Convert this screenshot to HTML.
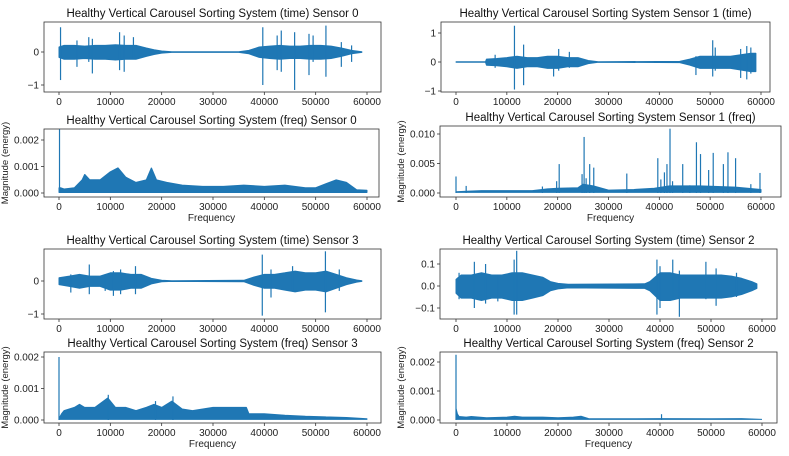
<!DOCTYPE html>
<html><head><meta charset="utf-8"><style>
body{margin:0;background:#fff;}
svg{display:block;font-family:"Liberation Sans","DejaVu Sans",sans-serif;}
</style></head><body>
<svg id="fig" width="789" height="456" viewBox="0 0 789 456"></svg>
<script>
// ---- data ----
const p1Xs=[0,1000,3000,5000,7000,9000,11000,13000,15000,17000,18500,20000,22000,35000,37000,39000,41000,43000,45000,47000,49000,51000,53000,55000,57000,59000];
const p1Up=[0.15,0.2,0.2,0.18,0.2,0.2,0.22,0.2,0.2,0.12,0.07,0.03,0.01,0.01,0.05,0.15,0.18,0.2,0.18,0.18,0.2,0.2,0.18,0.12,0.05,0.01];
const p1SpX=[300,3500,5800,6500,11800,12700,14500,39700,42500,43300,45900,48700,49500,52000,55000,57000];
const p1SpHi=[0.75,0.35,0.45,0.4,0.6,0.5,0.45,0.75,0.5,0.65,0.6,0.55,0.5,0.8,0.3,0.2];
const p1SpLo=[-0.85,-0.45,-0.3,-0.65,-0.55,-0.6,-0.2,-1.0,-0.55,-0.6,-1.15,-0.7,-0.3,-0.75,-0.45,-0.3];

const p2Xs=[0,300,1000,3000,4500,5000,6000,8000,10000,11500,13000,15000,17000,18000,19000,21000,24000,28000,32000,36000,40000,44000,48000,50000,52000,54000,56000,58000,60000];
const p2Up=[0.0002,0.0002,0.00015,0.0002,0.0005,0.0007,0.0005,0.0005,0.0008,0.00095,0.0006,0.0004,0.0005,0.00095,0.0005,0.0004,0.0003,0.00025,0.00025,0.0003,0.00025,0.0003,0.0002,0.0002,0.00035,0.0005,0.0004,0.00012,0.0001];
const p2SpX=[100];const p2SpHi=[0.0024];const p2SpLo=[0];

const p3Xs=[0,5800,6000,8000,10000,12000,14000,16000,18000,20000,22000,24000,26000,28000,44000,46000,48000,50000,52000,54000,56000,58000,59000];
const p3Up=[0.01,0.01,0.1,0.12,0.15,0.2,0.15,0.15,0.2,0.2,0.15,0.15,0.05,0.01,0.02,0.1,0.2,0.2,0.2,0.2,0.25,0.3,0.3];
const p3SpX=[7700,11500,13300,19200,20200,22300,47200,50500,51000,56000,57200,58000];
const p3SpHi=[0.25,1.25,0.6,0.2,0.45,0.35,0.2,0.75,0.5,0.45,0.55,0.5];
const p3SpLo=[-0.2,-0.95,-0.8,-0.5,-0.3,-0.2,-0.45,-0.5,-0.3,-0.55,-0.6,-0.4];

const p4Xs=[0,2000,5000,10000,15000,18000,20000,24000,25000,27000,30000,35000,39000,42000,48000,55000,60000];
const p4Up=[0.0002,0.0003,0.0004,0.0004,0.0004,0.0007,0.0008,0.0009,0.0015,0.0012,0.0005,0.0006,0.0008,0.0012,0.0012,0.001,0.0006];
const p4SpX=[0,2000,17000,19800,20300,24800,25200,25600,26300,27100,33600,39700,40300,41000,41500,42100,42600,44600,46000,47300,48100,49700,50600,52600,53500,55000,58000,59800];
const p4SpHi=[0.0028,0.0012,0.0011,0.002,0.0049,0.0032,0.0095,0.0025,0.0049,0.0043,0.0033,0.0059,0.0023,0.0035,0.0049,0.0109,0.002,0.0049,0.0013,0.0086,0.0066,0.0039,0.0068,0.0049,0.0069,0.0059,0.0015,0.0034];
const p4SpLo=p4SpX.map(()=>0);

const p5Xs=[0,2000,4000,6000,8000,10000,12000,14000,16000,18000,20000,22000,36000,38000,40000,42000,44000,46000,48000,50000,52000,54000,56000,58000,59000];
const p5Up=[0.1,0.15,0.2,0.15,0.15,0.25,0.25,0.2,0.2,0.08,0.02,0.01,0.02,0.12,0.2,0.2,0.25,0.3,0.25,0.25,0.3,0.2,0.1,0.03,0.01];
const p5SpX=[2300,5900,9000,10600,12000,14900,39600,41300,45500,51900,54600];
const p5SpHi=[0.2,0.5,0.2,0.3,0.35,0.45,0.8,0.35,0.45,0.9,0.35];
const p5SpLo=[-0.35,-0.4,-0.3,-0.45,-0.4,-0.4,-1.05,-0.5,-0.3,-0.95,-0.3];

const p6Xs=[0,500,1000,3000,4000,5000,7000,9500,11000,13000,15000,17000,18500,20000,22000,24000,26000,30000,32000,34000,36500,37000,40000,44000,48000,52000,56000,60000];
const p6Up=[0.00005,0.0002,0.0003,0.0004,0.0005,0.0004,0.0004,0.0007,0.0004,0.0004,0.0003,0.0004,0.0005,0.0004,0.0006,0.00035,0.0003,0.0004,0.0004,0.0004,0.0004,0.0002,0.0002,0.00015,0.00012,0.0001,0.00008,0.00004];
const p6SpX=[0,9600,18800,22200];const p6SpHi=[0.002,0.0008,0.0006,0.00075];const p6SpLo=[0,0,0,0];

const p7Xs=[0,1000,3000,5000,7000,9000,11000,13000,15000,17000,18500,20000,22000,37000,38000,40000,42000,44000,46000,48000,50000,52000,54000,56000,58000,59000];
const p7Up=[0.03,0.05,0.05,0.06,0.05,0.05,0.06,0.06,0.05,0.04,0.02,0.012,0.008,0.01,0.02,0.06,0.06,0.05,0.05,0.05,0.05,0.05,0.045,0.035,0.02,0.01];
const p7SpX=[600,3600,5800,8200,11400,11900,39400,40000,42500,43800,49000,51000,55000];
const p7SpHi=[0.06,0.11,0.1,0.05,0.12,0.16,0.12,0.09,0.12,0.07,0.11,0.08,0.06];
const p7SpLo=[-0.06,-0.1,-0.08,-0.07,-0.13,-0.13,-0.13,-0.1,-0.05,-0.14,-0.06,-0.09,-0.05];

const p8Xs=[0,300,600,2000,3000,6000,10000,11500,13000,17000,20000,23000,24500,26000,30000,40000,50000,56000,60000];
const p8Up=[0.0004,0.0002,0.00012,0.0001,0.00012,0.00008,0.0001,0.00013,0.0001,0.0001,0.00008,0.0001,0.00013,0.00005,0.00004,0.00005,0.00004,0.00005,0.00002];
const p8SpX=[0,40300];const p8SpHi=[0.00225,0.0002];const p8SpLo=[0,0];

const xTickVals=[0,10000,20000,30000,40000,50000,60000];

// ---- drawing ----
const NS='http://www.w3.org/2000/svg';
const svg=document.getElementById('fig');
const C='#1f77b4';
function mk(tag,attrs,parent){const e=document.createElementNS(NS,tag);for(const k in attrs)e.setAttribute(k,attrs[k]);(parent||svg).appendChild(e);return e;}
function txt(s,x,y,attrs,parent){const t=mk('text',Object.assign({x:x,y:y,'font-size':10,fill:'#222'},attrs),parent);t.textContent=s;return t;}

function panel(o){
  const g=mk('g',{});
  
  
  const sx=v=>o.x0+(v/60000)*(o.x6-o.x0);
  const sy=v=>o.py0+(v-o.v0)*(o.py1-o.py0)/(o.v1-o.v0);
  const freq=o.freq;
  // envelope
  let pts=[];
  o.xs.forEach((x,i)=>pts.push(sx(x).toFixed(1)+','+sy(o.up[i]).toFixed(1)));
  for(let i=o.xs.length-1;i>=0;i--){const lo=freq?0.00002*(o.v1>0.005?5:1):-o.up[i]*1.1;pts.push(sx(o.xs[i]).toFixed(1)+','+sy(lo).toFixed(1));}
  const env=mk('polygon',{points:pts.join(' '),fill:C,stroke:C,'stroke-width':1,'stroke-linejoin':'bevel'},g);
  
  
  // spikes
  o.spX.forEach((x,i)=>{
    const l=mk('line',{x1:sx(x),x2:sx(x),y1:sy(o.spHi[i]),y2:sy(o.spLo[i]),stroke:C,'stroke-width':1.2},g);
    
    
  });
  // frame
  const fr=mk('rect',{x:o.l,y:o.t,width:o.r-o.l,height:o.b-o.t,fill:'none',stroke:'#333','stroke-width':0.8},g);
  
  
  // x ticks
  xTickVals.forEach(v=>{
    mk('line',{x1:sx(v),x2:sx(v),y1:o.b,y2:o.b+3,stroke:'#333','stroke-width':0.8},g);
    const t=txt(String(v),sx(v),o.b+13,{'text-anchor':'middle'},g);
    
    
  });
  // y ticks
  o.yt.forEach((v,i)=>{
    mk('line',{x1:o.l-3,x2:o.l,y1:sy(v),y2:sy(v),stroke:'#333','stroke-width':0.8},g);
    const t=txt(o.ytl[i],o.l-5,sy(v)+3.5,{'text-anchor':'end'},g);
    
    
  });
  const ti=txt(o.title,(o.l+o.r)/2,o.t-5,{'text-anchor':'middle','font-size':11.5,fill:'#111'},g);
  
  
  if(freq){
    const xl=txt('Frequency',(o.l+o.r)/2,o.b+24,{'text-anchor':'middle'},g);
    
    
    const yx=o.l-36, yy=(o.t+o.b)/2;
    const yl=txt('Magnitude (energy)',yx,yy,{'text-anchor':'middle','font-size':9.5,transform:'rotate(-90 '+yx+' '+yy+')'},g);
    
    
  }
}
const M='\u2212';
panel({name:'sensor0-time-panel',title:'Healthy Vertical Carousel Sorting System (time) Sensor 0',l:44,r:381,t:22,b:92,x0:59,x6:367,v0:0,py0:52,v1:-1,py1:85,yt:[0,-1],ytl:['0',M+'1'],xs:p1Xs,up:p1Up,spX:p1SpX,spHi:p1SpHi,spLo:p1SpLo});
panel({name:'sensor0-freq-panel',freq:true,title:'Healthy Vertical Carousel Sorting System (freq) Sensor 0',l:44,r:379,t:129,b:197,x0:59,x6:367,v0:0,py0:193,v1:0.002,py1:140,yt:[0,0.001,0.002],ytl:['0.000','0.001','0.002'],xs:p2Xs,up:p2Up,spX:p2SpX,spHi:p2SpHi,spLo:p2SpLo});
panel({name:'sensor1-time-panel',title:'Healthy Vertical Carousel Sorting System Sensor 1 (time)',l:441,r:770,t:22,b:92,x0:456,x6:761,v0:0,py0:62,v1:1,py1:33,yt:[1,0,-1],ytl:['1','0',M+'1'],xs:p3Xs,up:p3Up,spX:p3SpX,spHi:p3SpHi,spLo:p3SpLo});
panel({name:'sensor1-freq-panel',freq:true,title:'Healthy Vertical Carousel Sorting System Sensor 1 (freq)',l:440,r:781,t:126,b:197,x0:456,x6:761,v0:0,py0:193,v1:0.01,py1:134,yt:[0,0.005,0.01],ytl:['0.000','0.005','0.010'],xs:p4Xs,up:p4Up,spX:p4SpX,spHi:p4SpHi,spLo:p4SpLo});
panel({name:'sensor3-time-panel',title:'Healthy Vertical Carousel Sorting System (time) Sensor 3',l:44,r:381,t:249,b:319,x0:59,x6:367,v0:0,py0:281,v1:-1,py1:314,yt:[0,-1],ytl:['0',M+'1'],xs:p5Xs,up:p5Up,spX:p5SpX,spHi:p5SpHi,spLo:p5SpLo});
panel({name:'sensor3-freq-panel',freq:true,title:'Healthy Vertical Carousel Sorting System (freq) Sensor 3',l:44,r:381,t:352,b:423,x0:59,x6:367,v0:0,py0:420,v1:0.002,py1:357,yt:[0,0.001,0.002],ytl:['0.000','0.001','0.002'],xs:p6Xs,up:p6Up,spX:p6SpX,spHi:p6SpHi,spLo:p6SpLo});
panel({name:'sensor2-time-panel',title:'Healthy Vertical Carousel Sorting System (time) Sensor 2',l:440,r:777,t:249,b:319,x0:456,x6:762,v0:0,py0:286,v1:0.1,py1:264,yt:[0.1,0,-0.1],ytl:['0.1','0.0',M+'0.1'],xs:p7Xs,up:p7Up,spX:p7SpX,spHi:p7SpHi,spLo:p7SpLo});
panel({name:'sensor2-freq-panel',freq:true,title:'Healthy Vertical Carousel Sorting System (freq) Sensor 2',l:440,r:777,t:352,b:423,x0:456,x6:762,v0:0,py0:420,v1:0.002,py1:362,yt:[0,0.001,0.002],ytl:['0.000','0.001','0.002'],xs:p8Xs,up:p8Up,spX:p8SpX,spHi:p8SpHi,spLo:p8SpLo});
</script>
</body></html>
